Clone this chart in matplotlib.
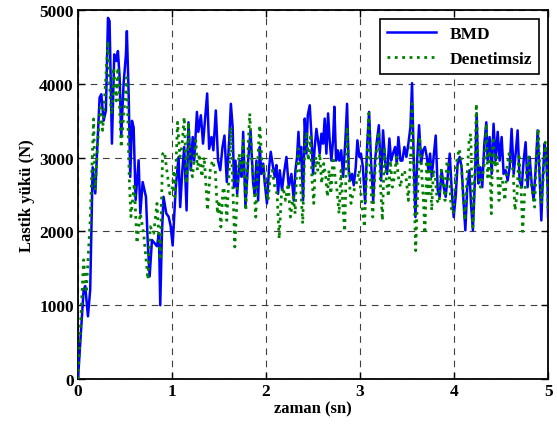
import matplotlib
matplotlib.use('Agg')
import matplotlib.pyplot as plt
import numpy as np

# values (time in s, load in N)
t_bmd = [0.0, 0.06, 0.077, 0.106, 0.13, 0.156, 0.184, 0.202, 0.23, 0.248, 0.273, 0.297,
         0.319, 0.336, 0.361, 0.386, 0.407, 0.425, 0.443, 0.46, 0.485, 0.51, 0.52, 0.539,
         0.556, 0.574, 0.592, 0.613, 0.645, 0.663, 0.688, 0.723, 0.741, 0.762, 0.787, 0.815,
         0.84, 0.861, 0.875, 0.893, 0.91, 0.939, 0.964, 0.985, 1.007,
         1.04, 1.07, 1.087, 1.11, 1.13, 1.155, 1.175, 1.2, 1.22, 1.236, 1.265, 1.28, 1.307,
         1.33, 1.353, 1.374, 1.395, 1.42, 1.44, 1.466, 1.49, 1.513, 1.537, 1.558, 1.583,
         1.608, 1.626, 1.645, 1.66, 1.675, 1.693, 1.72, 1.74, 1.757, 1.781, 1.81, 1.835,
         1.863, 1.88, 1.898, 1.916, 1.934, 1.95, 1.97, 1.987, 2.01, 2.033, 2.05, 2.075,
         2.093, 2.11, 2.128, 2.146, 2.17, 2.19, 2.217, 2.242, 2.27, 2.295, 2.313, 2.33,
         2.345, 2.36, 2.373, 2.394, 2.412, 2.43, 2.444, 2.465, 2.483, 2.5, 2.518, 2.536,
         2.553, 2.571, 2.589, 2.607, 2.624, 2.642, 2.66, 2.677, 2.695, 2.713, 2.727, 2.745,
         2.763, 2.78, 2.8, 2.82, 2.844, 2.862, 2.88, 2.897, 2.915, 2.933, 2.954, 2.972,
         2.993, 3.01, 3.03, 3.054, 3.075, 3.096, 3.118, 3.14, 3.16, 3.18, 3.2, 3.224, 3.245,
         3.266, 3.288, 3.312, 3.33, 3.35, 3.373, 3.39, 3.408, 3.43, 3.45, 3.472, 3.493,
         3.514, 3.536, 3.553, 3.571, 3.589, 3.607, 3.628, 3.65, 3.67, 3.69, 3.71, 3.727,
         3.745, 3.762, 3.783, 3.805, 3.826, 3.847, 3.868, 3.89, 3.911, 3.932, 3.954, 3.975,
         3.996, 4.017, 4.038, 4.06, 4.08, 4.1, 4.12, 4.14, 4.163, 4.18, 4.2, 4.223, 4.24,
         4.258, 4.28, 4.3, 4.322, 4.343, 4.357, 4.378, 4.4, 4.42, 4.442, 4.464, 4.485,
         4.506, 4.527, 4.548, 4.57, 4.591, 4.612, 4.634, 4.655, 4.676, 4.697, 4.72, 4.74,
         4.761, 4.782, 4.804, 4.825, 4.846, 4.867, 4.889, 4.91, 4.928, 4.945, 4.963, 4.98,
         4.995, 5.0]
f_bmd = [0, 1210, 1260, 850, 1210, 2870, 2515, 3050, 3815, 3860, 3500, 3640,
         4895, 4850, 3190, 4400, 4310, 4445, 4085, 3280, 4000, 4400, 4715, 3860,
         2740, 3500, 3410, 2425, 2965, 2245, 2670, 2470, 1885, 1390, 1885, 1840,
         1800, 1975, 1000, 1975, 2470, 2245, 2200, 2080, 1810,
         2600, 3010, 2330, 2830, 3145, 2285, 3480, 2830, 3280, 2960, 3620, 3350, 3575,
         3190, 3550, 3870, 3120, 3280, 3100, 3640, 2960, 2830, 3145, 3300, 2670,
         3235, 3730, 3415, 2600, 2960, 2510, 2960, 2740, 3350, 2330, 2960, 3370,
         2650, 2510, 2960, 2420, 3145, 2780, 2920, 2650, 2380, 2870, 3080, 2870,
         2740, 2900, 2510, 2830, 2560, 2780, 3010, 2600, 2780, 2420, 2830, 3010,
         3350, 2960, 3145, 2420, 3530, 3055, 3575, 3710, 3300, 2780, 3145, 3390,
         3235, 3055, 3325, 3190, 3530, 3055, 3600, 3235, 2960, 3235, 3690, 2960,
         3100, 2960, 3100, 2740, 3235, 3730, 2830, 2690, 2780, 2625, 2870, 3235,
         3010, 3055, 2870, 2380, 3145, 3620, 2920, 2420, 2960, 3235, 3440, 2690, 3370,
         2960, 2780, 3260, 2960, 3055, 3145, 2920, 3280, 2960, 2960, 3145, 3010,
         3190, 3415, 4010, 2960, 2195, 2960, 3440, 2920, 3100, 3145, 3010, 2830,
         3055, 2740, 3010, 3300, 2560, 2470, 2830, 2600, 2470, 2740, 3055, 2560,
         2195, 2470, 2920, 3010, 2870, 2420, 2015, 2600, 2830, 2380, 2015, 2740, 3600,
         2650, 2870, 2600, 3190, 3480, 2960, 3280, 2780, 3460, 2960, 3350, 2960,
         3280, 2780, 2830, 2690, 2870, 3390, 2780, 3055, 3370, 2690, 2600, 2960,
         3210, 2600, 3010, 2650, 2420, 2830, 3370, 2740, 2150, 2740, 3190, 3010,
         2600, 2200]

t_den = [0.0, 0.06, 0.088, 0.13, 0.166, 0.184, 0.209, 0.237, 0.262, 0.29, 0.319, 0.344,
         0.361, 0.379, 0.407, 0.425, 0.46, 0.492, 0.52, 0.546, 0.563, 0.599, 0.627, 0.663,
         0.698, 0.744, 0.769, 0.805, 0.84, 0.875, 0.9, 0.92, 0.977, 1.006, 1.02, 1.03,
         1.059, 1.084, 1.105, 1.13, 1.155, 1.175, 1.2, 1.218, 1.254, 1.27, 1.29, 1.318,
         1.342, 1.378, 1.406, 1.43, 1.46, 1.484, 1.5, 1.52, 1.544, 1.565, 1.583, 1.608,
         1.626, 1.643, 1.668, 1.686, 1.714, 1.74, 1.757, 1.785, 1.81, 1.827, 1.85, 1.87,
         1.891, 1.916, 1.934, 1.955, 1.976, 1.997, 2.022, 2.047, 2.068, 2.093, 2.118, 2.14,
         2.164, 2.182, 2.207, 2.235, 2.26, 2.288, 2.31, 2.323, 2.345, 2.366, 2.39, 2.412,
         2.43, 2.45, 2.472, 2.49, 2.508, 2.528, 2.55, 2.571, 2.592, 2.614, 2.635, 2.653,
         2.67, 2.69, 2.713, 2.734, 2.755, 2.777, 2.798, 2.82, 2.837, 2.862, 2.883, 2.904,
         2.925, 2.947, 2.968, 2.99, 3.018, 3.047, 3.068, 3.093, 3.11, 3.135, 3.16, 3.18,
         3.2, 3.217, 3.238, 3.26, 3.28, 3.302, 3.323, 3.344, 3.366, 3.387, 3.408, 3.43,
         3.45, 3.472, 3.493, 3.514, 3.536, 3.553, 3.571, 3.592, 3.614, 3.635, 3.656, 3.674,
         3.69, 3.71, 3.727, 3.745, 3.762, 3.78, 3.8, 3.82, 3.84, 3.862, 3.883, 3.904, 3.925,
         3.947, 3.968, 3.99, 4.01, 4.03, 4.053, 4.074, 4.095, 4.116, 4.138, 4.16, 4.177,
         4.2, 4.22, 4.237, 4.258, 4.28, 4.3, 4.322, 4.343, 4.357, 4.378, 4.396, 4.414,
         4.435, 4.456, 4.478, 4.5, 4.52, 4.54, 4.563, 4.584, 4.605, 4.627, 4.648, 4.67,
         4.69, 4.71, 4.73, 4.75, 4.772, 4.793, 4.814, 4.835, 4.857, 4.878, 4.896, 4.914,
         4.93, 4.952, 4.97, 4.988, 5.0]
f_den = [0, 1615, 1170, 2155, 3525, 2560, 3190, 3680, 3370, 3950, 4580, 3770,
         3590, 4220, 3770, 4220, 3140, 3680, 4085, 2695, 2200, 2650, 1840, 2245,
         1975, 1350, 2065, 1975, 2380, 1615, 3050, 3080, 2510, 2600, 2830, 2470,
         3480, 3010, 3145, 3550, 2650, 3480, 2830, 2740, 3235, 2830, 3050, 2740,
         3010, 2285, 2830, 2960, 2830, 2240, 2420, 2060, 2600, 2510, 2150, 2830,
         3415, 2740, 1790, 2285, 3055, 2780, 3235, 2285, 3145, 3600, 2960, 2690,
         2195, 3055, 3440, 2960, 2830, 2600, 2420, 2780, 2830, 2600, 2510, 1900,
         2510, 2600, 2420, 2650, 2195, 2470, 2240, 2740, 3120, 2690, 2105, 3145,
         3350, 2960, 3280, 2690, 2380, 3010, 2830, 3055, 2650, 2920, 2740, 2470,
         2830, 2510, 3010, 2740, 2560, 2240, 2830, 2285, 2000, 3415, 2740, 2380,
         2510, 2600, 2690, 2830, 2380, 2060, 2740, 3600, 2740, 2195, 2830, 3190,
         3350, 2650, 2150, 3145, 2690, 2470, 2960, 2600, 2740, 3010, 2740, 2600,
         2780, 2830, 2690, 2420, 2960, 3730, 2740, 1740, 2600, 3280, 2780, 2420,
         1970, 2960, 2510, 2960, 2285, 2830, 2740, 2420, 2380, 2830, 2740, 2420, 2960,
         2830, 2330, 2240, 2600, 2960, 3120, 3010, 2510, 2150, 2740, 3235, 3325,
         2060, 2740, 3730, 2830, 2600, 2740, 2920, 3460, 2740, 3100, 2240, 3280,
         2870, 3010, 2420, 2740, 2650, 2420, 2870, 3055, 2960, 2830, 2285, 2510,
         3055, 2650, 2000, 2510, 2830, 3010, 2690, 2510, 2330, 3055, 3390, 2740,
         2380, 2780, 3210, 2870, 2250]

x_ticks = [0, 1, 2, 3, 4, 5]
y_ticks = [0, 1000, 2000, 3000, 4000, 5000]

plt.rcParams['font.family'] = ['Liberation Serif', 'DejaVu Serif']
plt.rcParams['font.weight'] = 'bold'
plt.rcParams['font.size'] = 12.5

fig, ax = plt.subplots(figsize=(5.57, 4.27), dpi=100)
fig.subplots_adjust(left=0.14, right=0.984, bottom=0.11, top=0.974)

ax.plot(t_bmd, f_bmd, '-', color='#0000ff', lw=1.8, label='BMD', zorder=3)
ax.plot(t_den, f_den, ':', color='#008000', lw=2.0, label='Denetimsiz', zorder=4)

ax.set_xlim(0, 5)
ax.set_ylim(0, 5000)
ax.set_xticks(x_ticks)
ax.set_yticks(y_ticks)
ax.grid(True, color='0.25', lw=0.8, linestyle=(0, (6, 5)))
ax.tick_params(direction='in', top=True, right=True, length=5, width=1, labelsize=12.5, pad=3)
for s in ax.spines.values():
  s.set_linewidth(1.3)

ax.set_xlabel('zaman (sn)', fontweight='bold', fontsize=12, labelpad=1)
ax.set_ylabel('Lastik yükü (N)', fontweight='bold', fontsize=12, labelpad=3)

leg = ax.legend(loc='upper right', fancybox=False, edgecolor='k', framealpha=1,
                borderaxespad=0.5, handlelength=2.8, fontsize=12.5)
leg.get_frame().set_linewidth(1.2)

fig.savefig('out.png', dpi=100)
